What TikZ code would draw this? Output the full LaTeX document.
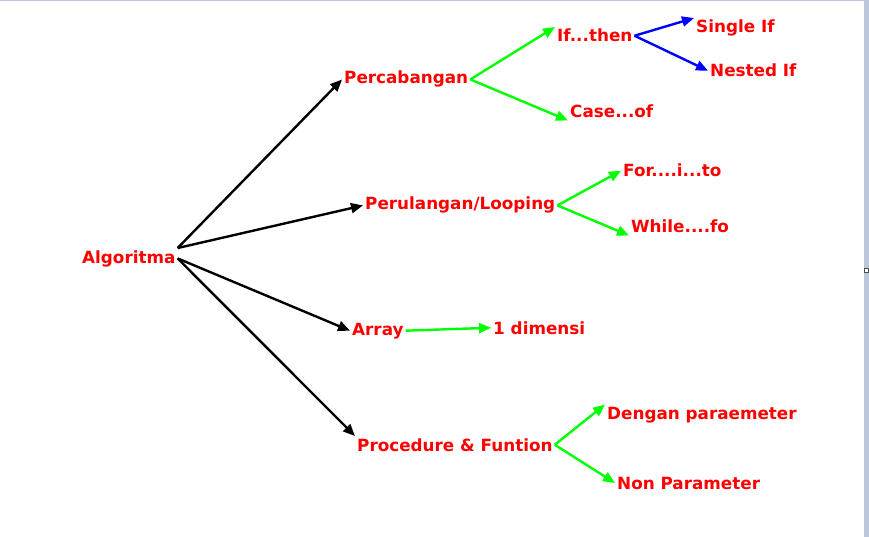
\documentclass[tikz,border=0pt]{standalone}
\usepackage{fontspec}
\setmainfont{DejaVu Sans}
\usepackage{xcolor}
\usepackage{tikz}
\usetikzlibrary{arrows.meta}
\definecolor{framegray}{RGB}{188,199,220}

\begin{document}
\begin{tikzpicture}[x=1pt, y=-1pt, >={Triangle[length=12pt,width=10pt]},
  every item/.style={anchor=base west, inner sep=2pt, text=red,
    font=\bfseries\fontsize{16.8}{20}\selectfont},
  level one/.style={->, line width=2.4pt, black},
  level two/.style={->, line width=2.4pt, green},
  level three/.style={->, line width=2.4pt, blue}]

% canvas and window frame
\fill [white] (0,0) rectangle (869,537);
\fill [framegray] (0,0) rectangle (864,1);
\fill [framegray] (864,0) rectangle (869,537);
\draw [gray!60!black, fill=white, line width=0.8pt] (864.5,268) rectangle (868.5,272);

\foreach \n/\x/\y/\t in {algo/80/263/Algoritma,
    perc/342/84/Percabangan,
    loop/363/210/{Perulangan/Looping},
    array/350/335/Array,
    proc/355/451/{Procedure \& Funtion},
    ifthen/555/42/{If...then},
    caseof/568/118/{Case...of},
    single/694/33/Single If,
    nested/708/77/Nested If,
    forto/621/177/{For....i...to},
    whilefo/629/233/{While....fo},
    dim/491/334/1 dimensi,
    dengan/605/419/Dengan paraemeter,
    nonpar/615/489/Non Parameter}
  \node [every item] (\n) at (\x,\y) {\t};

\foreach \a/\b in {algo.north east/perc.west, algo.north east/loop.west,
    algo.east/array.west, algo.east/proc.north west}
  \draw [level one] (\a) -- (\b);

\foreach \a/\b in {perc.east/ifthen.north west, perc.east/caseof.south west,
    loop.east/forto.west, loop.east/whilefo.south west,
    array.east/dim.west,
    proc.east/dengan.north west, proc.east/nonpar.west}
  \draw [level two] (\a) -- (\b);

\foreach \a/\b in {ifthen.east/single.north west, ifthen.east/nested.west}
  \draw [level three] (\a) -- (\b);
\end{tikzpicture}
\end{document}
